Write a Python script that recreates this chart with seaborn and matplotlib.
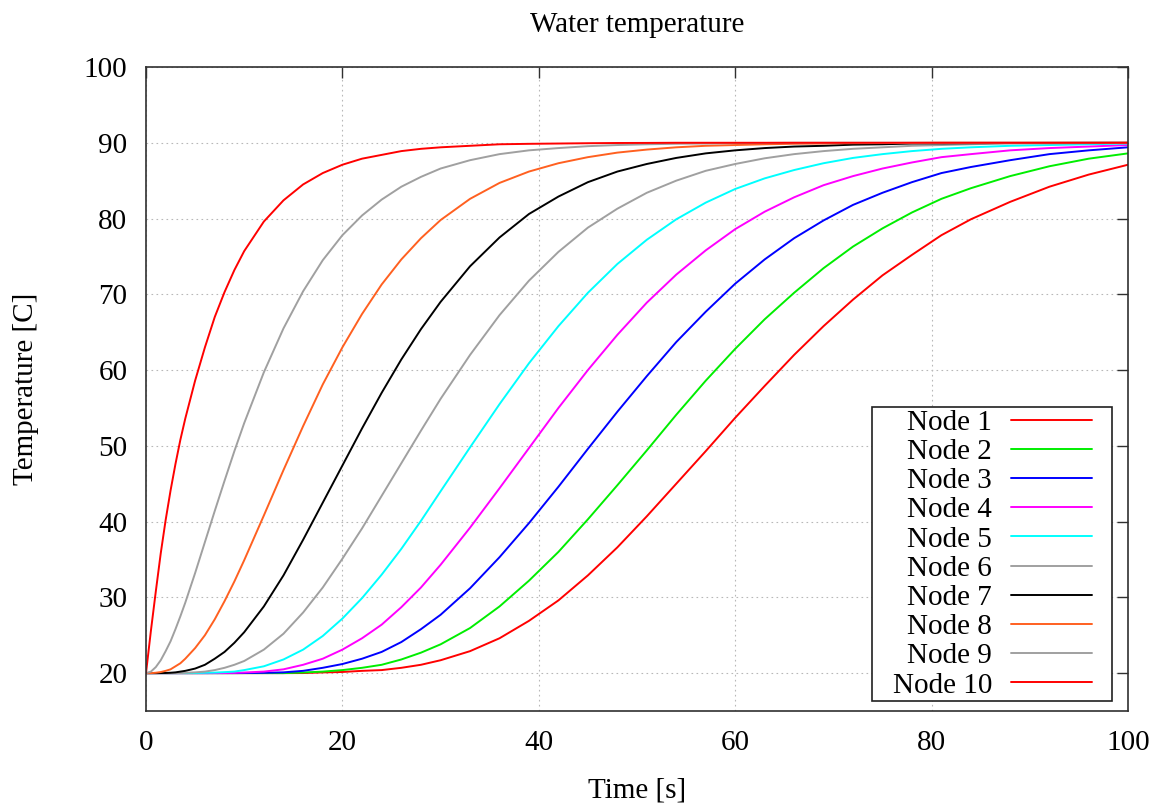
import matplotlib
matplotlib.use("Agg")
import matplotlib.pyplot as plt
from matplotlib.path import Path
import seaborn as sns
import pandas as pd

# ---- data ----
time_s = [0, 0.5, 1, 1.5, 2, 2.5, 3, 3.5, 4, 5, 6, 7, 8, 9, 10, 12, 14, 16, 18, 20,
          22, 24, 26, 28, 30, 33, 36, 39, 42, 45, 48, 51, 54, 57, 60, 63, 66, 69,
          72, 75, 78, 81, 84, 88, 92, 96, 100]

node1 = [20, 20, 20, 20, 20, 20, 20, 20, 20, 20, 20, 20, 20, 20, 20,
         20, 20, 20.01, 20.09, 20.15, 20.3, 20.4, 20.7, 21.1, 21.7,
         22.9, 24.6, 26.9, 29.6, 32.9, 36.6, 40.7, 45.0, 49.3, 53.7,
         57.9, 62.0, 65.8, 69.3, 72.5, 75.2, 77.8, 79.9, 82.2, 84.2, 85.8, 87.1]
node2 = [20, 20, 20, 20, 20, 20, 20, 20, 20, 20, 20, 20, 20, 20, 20,
         20, 20, 20.08, 20.2, 20.4, 20.7, 21.1, 21.8, 22.7, 23.8,
         25.95, 28.8, 32.2, 36.0, 40.3, 44.8, 49.4, 54.1, 58.6, 62.8,
         66.7, 70.2, 73.45, 76.3, 78.7, 80.8, 82.6, 84.0, 85.6, 86.9, 87.9, 88.6]
node3 = [20, 20, 20, 20, 20, 20, 20, 20, 20, 20, 20, 20, 20, 20, 20.01,
         20.04, 20.1, 20.3, 20.7, 21.2, 21.9, 22.8, 24.1, 25.8, 27.7,
         31.2, 35.3, 39.8, 44.6, 49.6, 54.5, 59.2, 63.7, 67.7, 71.4,
         74.6, 77.4, 79.75, 81.8, 83.4, 84.8, 86.0, 86.8, 87.7, 88.5, 89.0, 89.4]
node4 = [20, 20, 20, 20, 20, 20, 20, 20, 20, 20, 20, 20.01, 20.01, 20.03, 20.08,
         20.2, 20.5, 21.1, 21.9, 23.1, 24.6, 26.4, 28.7, 31.3, 34.3,
         39.2, 44.4, 49.7, 55.0, 60.0, 64.65, 68.9, 72.6, 75.8, 78.6,
         80.9, 82.8, 84.4, 85.6, 86.6, 87.4, 88.1, 88.5, 89.0, 89.3, 89.5, 89.7]
node5 = [20, 20, 20, 20, 20, 20, 20, 20, 20, 20.01, 20.04, 20.07, 20.13, 20.2, 20.4,
         20.9, 21.8, 23.1, 24.9, 27.2, 29.9, 33.0, 36.4, 40.1, 44.0,
         49.8, 55.5, 60.9, 65.8, 70.2, 74.0, 77.2, 79.9, 82.1, 83.9,
         85.3, 86.4, 87.3, 88.0, 88.5, 88.9, 89.2, 89.4, 89.6, 89.7, 89.8, 89.9]
node6 = [20, 20, 20, 20, 20, 20, 20.01, 20.01, 20.04, 20.1, 20.2, 20.4, 20.7, 21.1, 21.6,
         23.1, 25.2, 28.0, 31.3, 35.1, 39.1, 43.4, 47.7, 52.0, 56.2,
         62.0, 67.25, 71.8, 75.6, 78.8, 81.3, 83.4, 85.0, 86.3, 87.2,
         87.95, 88.5, 88.9, 89.2, 89.4, 89.6, 89.7, 89.8, 89.9, 89.9, 89.95, 89.97]
node7 = [20, 20, 20, 20.01, 20.02, 20.05, 20.1, 20.2, 20.3, 20.6, 21.1, 21.9, 22.8, 24.0, 25.4,
         28.8, 32.9, 37.6, 42.5, 47.4, 52.3, 57.0, 61.4, 65.4, 69.0,
         73.7, 77.5, 80.6, 82.9, 84.8, 86.2, 87.2, 88.0, 88.6, 89.0,
         89.3, 89.5, 89.6, 89.75, 89.8, 89.9, 89.92, 89.94, 89.97, 89.98, 89.99, 90.0]
node8 = [20, 20, 20.05, 20.14, 20.3, 20.5, 20.9, 21.3, 21.9, 23.3, 25.0, 27.1, 29.5, 32.1, 34.9,
         40.8, 46.8, 52.6, 58.1, 63.0, 67.4, 71.3, 74.6, 77.4, 79.8,
         82.6, 84.7, 86.2, 87.3, 88.1, 88.7, 89.1, 89.4, 89.6, 89.7,
         89.8, 89.87, 89.9, 89.94, 89.96, 89.98, 90.0, 90.0, 90.0, 90.0, 90.0, 90.0]
node9 = [20, 20.2, 20.8, 21.7, 22.9, 24.2, 25.8, 27.5, 29.3, 33.2, 37.3, 41.4, 45.4, 49.3, 53.0,
         59.7, 65.5, 70.4, 74.5, 77.8, 80.4, 82.5, 84.2, 85.5, 86.6,
         87.7, 88.5, 89.0, 89.3, 89.55, 89.7, 89.8, 89.87, 89.9, 89.95,
         89.97, 90.0, 90.0, 90.0, 90.0, 90.0, 90.0, 90.0, 90.0, 90.0, 90.0, 90.0]
node10 = [20, 25.6, 30.8, 35.8, 40.2, 44.1, 47.6, 50.8, 53.6, 58.6, 63.0, 67.0, 70.3, 73.2, 75.7,
          79.6, 82.4, 84.5, 86.0, 87.1, 87.9, 88.4, 88.9, 89.2, 89.4,
          89.6, 89.8, 89.86, 89.9, 89.94, 89.97, 89.98, 90.0, 90.0, 90.0,
          90.0, 90.0, 90.0, 90.0, 90.0, 90.0, 90.0, 90.0, 90.0, 90.0, 90.0, 90.0]

node_names = ["Node 1", "Node 2", "Node 3", "Node 4", "Node 5",
              "Node 6", "Node 7", "Node 8", "Node 9", "Node 10"]
node_values = [node1, node2, node3, node4, node5, node6, node7, node8, node9, node10]
node_colors = ["#ff0000", "#00ee00", "#0000ff", "#ff00ff", "#00ffff",
               "#a0a0a0", "#000000", "#ff6020", "#a0a0a0", "#ff0000"]

x_ticks = [0, 20, 40, 60, 80, 100]
y_ticks = [20, 30, 40, 50, 60, 70, 80, 90, 100]

rows = []
for name, vals in zip(node_names, node_values):
    if len(vals) != len(time_s):
        raise ValueError(f"{name}: {len(vals)} values for {len(time_s)} times")
    for t, v in zip(time_s, vals):
        rows.append({"Time": t, "Temperature": v, "Node": name})
df = pd.DataFrame(rows)

# ---- styling ----
sns.set_theme(style="white")
plt.rcParams["font.family"] = ["Liberation Serif", "DejaVu Serif"]
plt.rcParams["font.size"] = 21
plt.rcParams["text.color"] = "black"
plt.rcParams["axes.labelcolor"] = "black"
plt.rcParams["xtick.color"] = "black"
plt.rcParams["ytick.color"] = "black"

FS = 21

fig = plt.figure(figsize=(11.72, 8.05), dpi=100)
ax = fig.add_axes([146 / 1172, 1 - 711 / 805, (1128 - 146) / 1172, (711 - 67) / 805])

palette = dict(zip(node_names, node_colors))
sns.lineplot(data=df, x="Time", y="Temperature", hue="Node", hue_order=node_names,
             palette=palette, ax=ax, legend=False, linewidth=1.4, estimator=None,
             sort=False)

ax.set_xlim(0, 100)
ax.set_ylim(15, 100)
ax.set_xticks(x_ticks)
ax.set_yticks(y_ticks)
ax.set_xlabel("")
ax.set_ylabel("")
ax.grid(True, color="#b8b8b8", linestyle=(0, (1.5, 3)), linewidth=0.8)
ax.set_axisbelow(True)
for s in ax.spines.values():
    s.set_color("#303030")
    s.set_linewidth(1.2)
ax.tick_params(axis="both", direction="in", length=8, width=1.0, color="#303030",
               top=True, right=True, labelsize=FS, labelcolor="black")
ax.tick_params(axis="y", pad=13.5)
ax.tick_params(axis="x", pad=14)

# legend: text first, line sample after it, frame tight vertically, wider sideways
PADX = 18.0  # pixels of extra horizontal frame margin


def hpad_box(x0, y0, width, height, mutation_size):
    xa, xb = x0 - PADX, x0 + width + PADX
    ya, yb = y0, y0 + height
    return Path([(xa, ya), (xb, ya), (xb, yb), (xa, yb), (xa, ya)],
                [Path.MOVETO, Path.LINETO, Path.LINETO, Path.LINETO, Path.CLOSEPOLY])


lines = ax.get_lines()
leg = ax.legend(lines[:len(node_names)], node_names, loc="lower right",
                bbox_to_anchor=((1112 - PADX - 146) / 982, (711 - 701) / 644),
                borderaxespad=0, markerfirst=False, handlelength=2.77,
                handletextpad=0.65, labelspacing=0.096, borderpad=0.08,
                fancybox=False, framealpha=1, fontsize=FS)
frame = leg.get_frame()
frame.set_boxstyle(hpad_box)
frame.set_edgecolor("#202020")
frame.set_linewidth(1.2)

fig.text(637 / 1172, 1 - 25 / 805, "Water temperature", ha="center", va="center",
         fontsize=FS)
fig.text(637 / 1172, 1 - 797 / 805, "Time [s]", ha="center", va="baseline",
         fontsize=FS)
fig.text(26 / 1172, 1 - 389 / 805, "Temperature [C]", ha="center", va="center",
         rotation=90, fontsize=FS)

fig.savefig("out.png", dpi=100)
